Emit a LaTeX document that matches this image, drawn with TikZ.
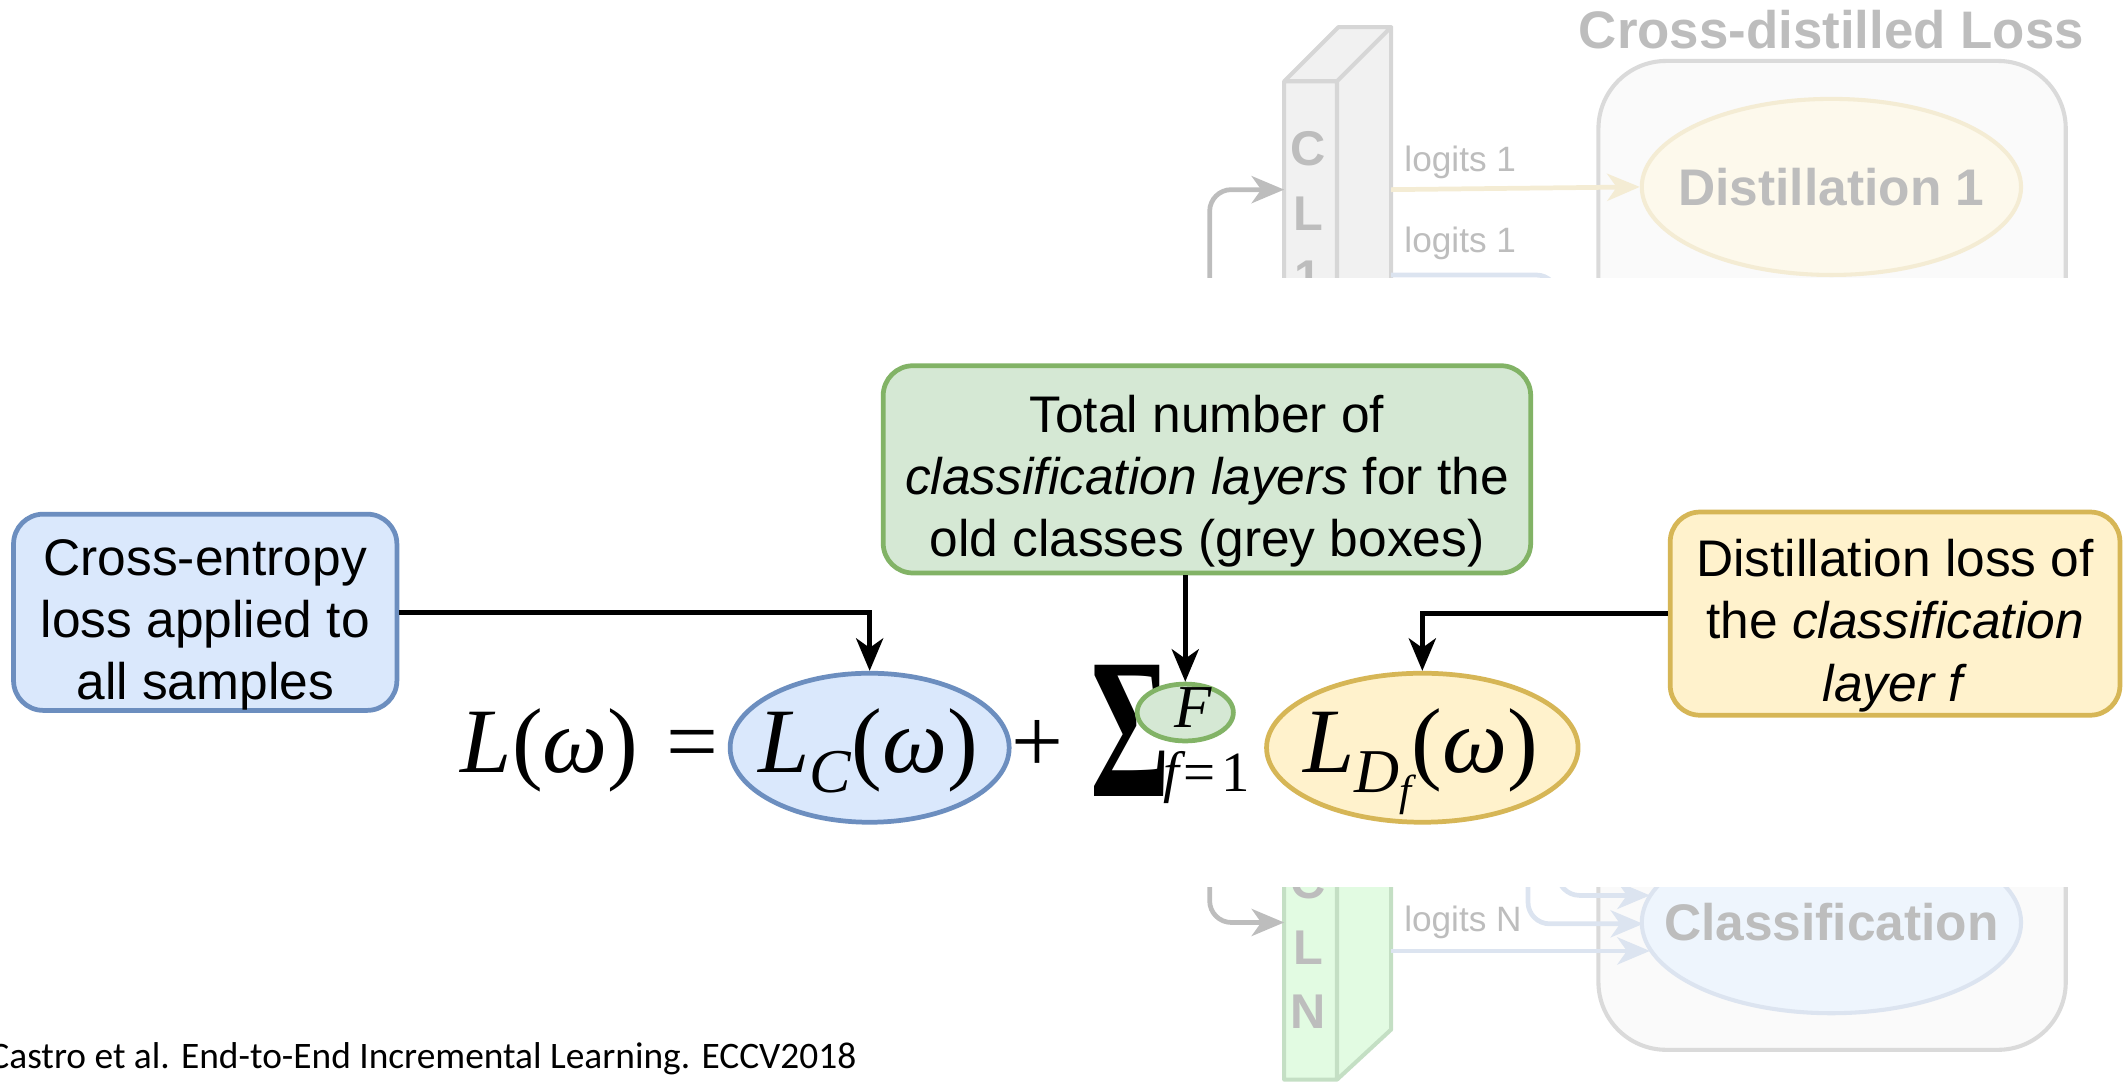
\documentclass[tikz,border=0pt]{standalone}
\usepackage{fontspec}
\usepackage{graphicx}
\setmainfont{Liberation Sans}
\newfontfamily\serifeq{Liberation Serif}
\newfontfamily\citefont{Carlito}
\usetikzlibrary{shapes.geometric,arrows.meta,calc}
\definecolor{bluefill}{HTML}{DAE8FC}
\definecolor{bluestroke}{HTML}{6C8EBF}
\definecolor{greenfill}{HTML}{D5E8D4}
\definecolor{greenstroke}{HTML}{82B366}
\definecolor{yellowfill}{HTML}{FFF2CC}
\definecolor{yellowstroke}{HTML}{D6B656}
\definecolor{fadetext}{HTML}{BDBDBD}
\definecolor{fadeline}{HTML}{DADADA}
\definecolor{fadebg}{HTML}{FAFAFA}
\definecolor{fadegreyfill}{HTML}{F1F1F1}
\definecolor{fadegreystroke}{HTML}{D6D6D6}
\definecolor{fadegreenfill}{HTML}{E2FBE2}
\definecolor{fadegreenstroke}{HTML}{C4DFC4}
\definecolor{fadeyel}{HTML}{F4ECD4}
\definecolor{fadeyelfill}{HTML}{FDF9EC}
\definecolor{fadeblue}{HTML}{DCE4F0}
\definecolor{fadebluefill}{HTML}{EEF5FD}
\newcommand\eqsize{\fontsize{68}{68}\selectfont}
\newcommand\topstrut{\rule{0pt}{45pt}}
\begin{document}
\begin{tikzpicture}[x=1pt,y=-1pt,
  tipstyle/.style={-{Stealth[length=24pt,width=20pt,inset=7pt]}},
  blk/.style={draw=black,line width=3.5pt,tipstyle},
  fadearr/.style={line width=3.5pt,tipstyle,rounded corners=16pt},
  callout/.style={draw,line width=3.5pt,rounded corners=22pt,align=center,
    font=\fontsize{38}{46}\selectfont,inner sep=0pt},
  eqell/.style={ellipse,line width=3.5pt,inner sep=0pt},
  eqtext/.style={font=\serifeq\eqsize,inner sep=0pt,anchor=base},
  prismletter/.style={font=\bfseries\fontsize{36}{36}\selectfont,text=fadetext,inner sep=0pt},
  logit/.style={font=\fontsize{26}{26}\selectfont,text=fadetext,inner sep=0pt},
  bigfade/.style={font=\bfseries\fontsize{38}{38}\selectfont,text=fadetext,inner sep=0pt}]
\useasboundingbox (0,0) rectangle (1568,799);
% ---------------- faded background diagram ----------------
\node[draw=fadeline,fill=fadebg,line width=3pt,rounded corners=50pt,
  minimum width=345pt,minimum height=730pt,inner sep=0pt] (cont) at (1352.5,410) {};
\node[bigfade,font=\bfseries\fontsize{39}{39}\selectfont] (cdl) at (1352,22) {Cross-distilled Loss};
\node[ellipse,draw=fadeyel,fill=fadeyelfill,line width=3pt,minimum width=280pt,
  minimum height=130pt,inner sep=0pt] (d1) at (1352,138) {};
\node[bigfade] (d1t) at (1352,138) {Distillation 1};
\node[ellipse,draw=fadeblue,fill=fadebluefill,line width=3pt,minimum width=280pt,
  minimum height=134pt,inner sep=0pt] (cls) at (1352,681) {};
\node[bigfade] (clst) at (1352,681) {Classification};
% CL1 prism
\filldraw[fill=fadegreyfill,draw=fadegreystroke,line width=3pt,line join=round]
  (948,60) -- (987,60) -- (987,430) -- (948,430) -- cycle
  (948,60) -- (988,20) -- (1027,20) -- (987,60) -- cycle
  (987,60) -- (1027,20) -- (1027,390) -- (987,430) -- cycle;
\node[prismletter] (c1a) at (966,110) {C};
\node[prismletter] (c1b) at (966,158) {L};
\node[prismletter] (c1c) at (966,205) {1};
% CLN prism
\filldraw[fill=fadegreenfill,draw=fadegreenstroke,line width=3pt,line join=round]
  (948,480) -- (987,480) -- (987,797) -- (948,797) -- cycle
  (987,480) -- (1027,440) -- (1027,760) -- (987,797) -- cycle;
\node[prismletter] (cna) at (966,651) {C};
\node[prismletter] (cnb) at (966,700) {L};
\node[prismletter] (cnc) at (966,747) {N};
% connectors of faded diagram
\coordinate (g1s) at (893,320);
\coordinate (cl1in) at (948,140);
\coordinate (gNs) at (893,500);
\coordinate (clNin) at (948,681);
\coordinate (cl1o1) at (1027,140);
\coordinate (cl1o2) at (1027,203);
\coordinate (clNo) at (1027,702);
\coordinate (mid2) at (1128,500);
\coordinate (clsA) at (1218,661);
\coordinate (clsB) at (1213,682);
\coordinate (clsC) at (1218,702);
\draw[fadearr,draw=fadetext] (g1s) |- (cl1in);
\draw[fadearr,draw=fadetext] (gNs) |- (clNin);
\draw[fadearr,draw=fadeyel] (cl1o1) -- (d1.west);
\draw[fadearr,draw=fadeblue] (cl1o2) -- (1150,203) -- (1150,661) -- (clsA);
\draw[fadearr,draw=fadeblue] (mid2) |- (clsB);
\draw[fadearr,draw=fadeblue] (clNo) -- (clsC);
\node[logit] (lg1) at (1078,120) {logits 1};
\node[logit] (lg2) at (1078,180) {logits 1};
\node[logit] (lgN) at (1080,681) {logits N};
% white band hiding the middle of the faded diagram
\fill[white] (0,205) rectangle (1568,655);
% ---------------- main content ----------------
\node[callout,draw=bluestroke,fill=bluefill,minimum width=283pt,minimum height=142pt] (blue) at (151.5,452)
  {\topstrut Cross-entropy\\loss applied to\\all samples};
\node[callout,draw=greenstroke,fill=greenfill,minimum width=478pt,minimum height=153pt] (green) at (891,346.5)
  {\topstrut Total number of\\\textit{classification layers} for the\\old classes (grey boxes)};
\node[callout,draw=yellowstroke,fill=yellowfill,minimum width=332pt,minimum height=150pt] (yellow) at (1399,453)
  {\topstrut Distillation loss of\\the \textit{classification}\\\textit{layer f}};
% formula
\node[eqtext,anchor=base west] (Lw) at (340,570) {\itshape L\upshape(\itshape ω\upshape)};
\node[eqtext] (eq) at (511,570) {=};
\node[eqell,draw=bluestroke,fill=bluefill,minimum width=206pt,minimum height=110pt] (LC) at (642,552) {};
\node[eqtext] (LCt) at (641,570) {\itshape L\raisebox{-15pt}{\fontsize{46}{46}\selectfont C}\upshape(\itshape ω\upshape)};
\node[eqtext] (plus) at (766,570) {+};
\node[eqtext,anchor=south west,font=\serifeq\bfseries\fontsize{148}{148}\selectfont] (sig) at (805,588) {\scalebox{0.61}[1]{Σ}};
\node[eqell,draw=greenstroke,fill=greenfill,minimum width=71pt,minimum height=42pt] (Fc) at (875,526) {};
\node[eqtext,font=\serifeq\itshape\fontsize{45}{45}\selectfont] (Ft) at (881,537) {F};
\node[eqtext,anchor=base west,font=\serifeq\fontsize{42}{42}\selectfont] (f1) at (859,584) {\itshape f\hspace{3pt}\upshape=\hspace{4pt}1};
\node[eqell,draw=yellowstroke,fill=yellowfill,minimum width=230pt,minimum height=110pt] (LD) at (1050,552) {};
\node[eqtext] (LDt) at (1049,570) {\itshape L\raisebox{-15pt}{\fontsize{46}{46}\selectfont D\raisebox{-10pt}{\fontsize{32}{32}\selectfont f}}\upshape(\itshape ω\upshape)};
% arrows
\draw[blk] (blue.east) -| (LC.north);
\draw[blk] (Fc.north |- green.south) -- (Fc.north);
\draw[blk] (yellow.west) -| (LD.north);
% citation
\node[anchor=base west,inner sep=0pt,font=\citefont\fontsize{27.6}{27.6}\selectfont] (cite) at (-8,789)
  {Castro et al. End-to-End Incremental Learning. ECCV2018};
\end{tikzpicture}
\end{document}
